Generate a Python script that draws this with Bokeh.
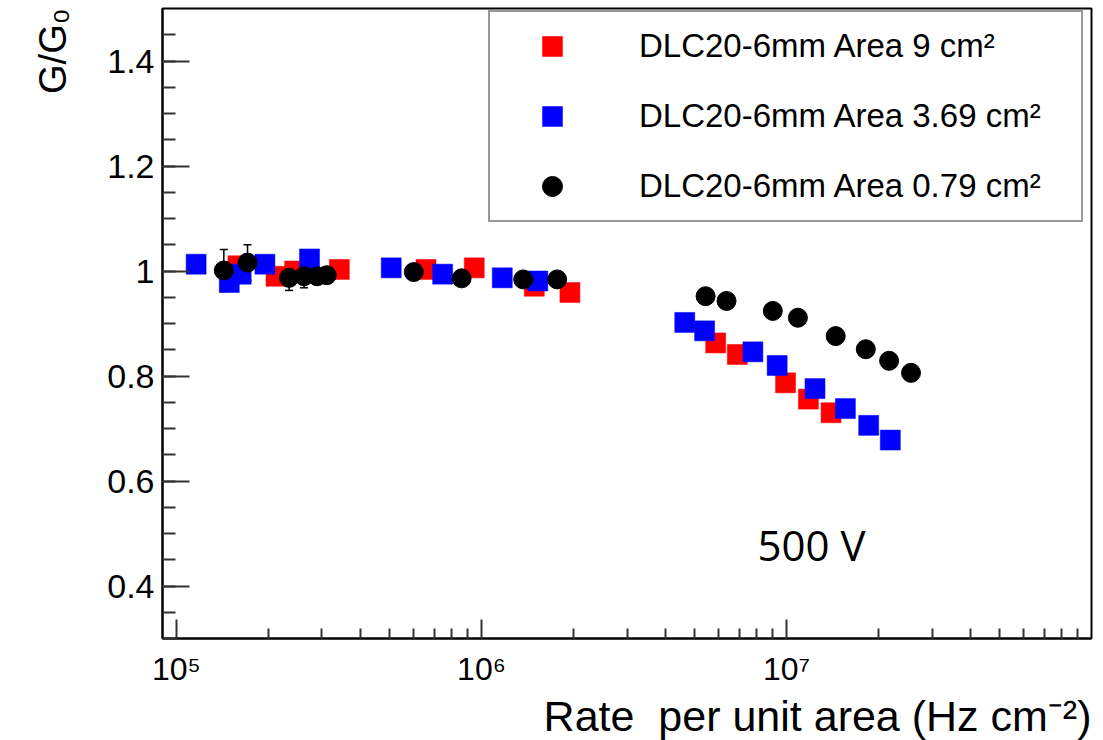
import math
from bokeh.plotting import figure
from bokeh.models import (Range1d, FixedTicker, SingleIntervalTicker, NumeralTickFormatter,
                          Legend, LegendItem, Label, Title, Whisker, TeeHead, ColumnDataSource)
from bokeh.embed import file_html
from bokeh.resources import INLINE

# ---------------- data ----------------
red_label = "DLC20-6mm Area 9 cm²"
red_x = [1.59e5, 2.12e5, 2.44e5, 3.42e5, 6.58e5, 9.47e5, 1.49e6, 1.95e6,
         5.86e6, 6.90e6, 9.93e6, 1.18e7, 1.40e7]
red_y = [1.010, 0.990, 1.000, 1.003, 1.003, 1.006, 0.971, 0.959,
         0.863, 0.841, 0.787, 0.756, 0.730]

blue_label = "DLC20-6mm Area 3.69 cm²"
blue_x = [1.16e5, 1.49e5, 1.63e5, 1.95e5, 2.73e5, 5.06e5, 7.46e5, 1.17e6, 1.53e6,
          4.64e6, 5.39e6, 7.76e6, 9.32e6, 1.24e7, 1.56e7, 1.86e7, 2.19e7]
blue_y = [1.013, 0.978, 0.994, 1.013, 1.023, 1.006, 0.994, 0.987, 0.981,
          0.902, 0.886, 0.846, 0.820, 0.776, 0.738, 0.706, 0.678]

black_label = "DLC20-6mm Area 0.79 cm²"
black_x = [1.43e5, 1.71e5, 2.34e5, 2.62e5, 2.89e5, 3.11e5, 6.00e5, 8.61e5, 1.37e6, 1.77e6,
           5.43e6, 6.36e6, 9.02e6, 1.09e7, 1.45e7, 1.82e7, 2.17e7, 2.56e7]
black_y = [1.001, 1.016, 0.987, 0.990, 0.990, 0.992, 0.998, 0.986, 0.984, 0.984,
           0.952, 0.943, 0.924, 0.911, 0.876, 0.851, 0.829, 0.806]
black_err = [0.040, 0.034, 0.024, 0.022, 0.012, 0.008, 0.012, 0.012, 0.008, 0.008,
             0.012, 0.012, 0.012, 0.012, 0.012, 0.012, 0.012, 0.012]

x_major_ticks = [1e5, 1e6, 1e7]
x_tick_labels = ["10⁵", "10⁶", "10⁷"]
x_minor_mult = [2, 3, 4, 5, 6, 7, 8, 9]
x_title = "Rate\u00a0 per unit area (Hz cm⁻²)"
y_title = "G/G₀"
annotation = "500 V"

FONT = "Liberation Sans"

# ---------------- figure ----------------
p = figure(width=1103, height=740, x_axis_type="log",
           x_range=Range1d(9e4, 1e8), y_range=Range1d(0.3, 1.5),
           output_backend="svg", toolbar_location=None,
           min_border_left=162, min_border_right=12,
           min_border_top=8, min_border_bottom=102)
p.grid.visible = False
p.background_fill_color = "white"
p.border_fill_color = "white"
p.outline_line_color = "black"
p.outline_line_width = 2

# x axis
xa = p.xaxis[0]
xa.ticker = FixedTicker(ticks=x_major_ticks,
                        minor_ticks=[m * d for d in [1e5, 1e6, 1e7] for m in x_minor_mult])
xa.major_label_overrides = {t: lab for t, lab in zip(x_major_ticks, x_tick_labels)}
xa.major_tick_in = 19
xa.major_tick_out = 0
xa.minor_tick_in = 10
xa.minor_tick_out = 0
xa.major_label_standoff = 12
xa.major_label_text_font = FONT
xa.major_label_text_font_size = "32px"
xa.major_label_text_color = "black"

# y axis
ya = p.yaxis[0]
ya.ticker = SingleIntervalTicker(interval=0.2, num_minor_ticks=4)
ya.formatter = NumeralTickFormatter(format="0.[0]")
ya.major_tick_in = 27
ya.major_tick_out = 0
ya.minor_tick_in = 13
ya.minor_tick_out = 0
ya.major_label_standoff = 8
ya.major_label_text_font = FONT
ya.major_label_text_font_size = "34px"
ya.major_label_text_color = "black"

for ax in (xa, ya):
    ax.axis_line_color = "black"
    ax.axis_line_width = 2
    ax.major_tick_line_color = "#333333"
    ax.major_tick_line_width = 2
    ax.minor_tick_line_color = "#333333"
    ax.minor_tick_line_width = 2

# ---------------- data glyphs ----------------
r_red = p.scatter(red_x, red_y, marker="square", size=20,
                  fill_color="#ff0000", line_color="#ff0000", line_width=0.5)
r_blue = p.scatter(blue_x, blue_y, marker="square", size=20,
                   fill_color="#0000ff", line_color="#0000ff", line_width=0.5)

src_k = ColumnDataSource(dict(x=black_x, y=black_y,
                              lower=[v - e for v, e in zip(black_y, black_err)],
                              upper=[v + e for v, e in zip(black_y, black_err)]))
wk = Whisker(base="x", lower="lower", upper="upper", source=src_k, dimension="height",
             line_color="black", line_width=1.5,
             lower_head=TeeHead(size=8, line_color="black", line_width=1.5),
             upper_head=TeeHead(size=8, line_color="black", line_width=1.5))
p.add_layout(wk)
r_black = p.scatter("x", "y", source=src_k, marker="circle", size=19,
                    fill_color="black", line_color="black")

# ---------------- legend ----------------
legend = Legend(items=[LegendItem(label=red_label, renderers=[r_red]),
                       LegendItem(label=blue_label, renderers=[r_blue]),
                       LegendItem(label=black_label, renderers=[r_black])],
                location=(326, 416), margin=0, padding=9, spacing=20,
                glyph_width=106, glyph_height=50, label_height=50,
                label_width=433, label_standoff=34,
                label_text_font=FONT, label_text_font_size="33px",
                label_text_color="black",
                border_line_color="#333333", border_line_width=2,
                background_fill_color="white", background_fill_alpha=1.0)
p.add_layout(legend)

# ---------------- titles / annotation ----------------
p.add_layout(Title(text=x_title, align="right", standoff=0,
                   text_font=FONT, text_font_size="43px", text_font_style="normal",
                   text_color="black"), "below")
p.add_layout(Title(text=y_title, align="right", vertical_align="top", standoff=58,
                   text_font=FONT, text_font_size="38px", text_font_style="normal",
                   text_color="black"), "left")
p.add_layout(Label(x=757 - 162, y=638 - 544, x_units="screen", y_units="screen",
                   text=annotation, text_align="left", text_baseline="alphabetic",
                   text_font="Open Sans", text_font_size="42px", text_color="black"))

open("out.html", "w").write(file_html(p, INLINE))
